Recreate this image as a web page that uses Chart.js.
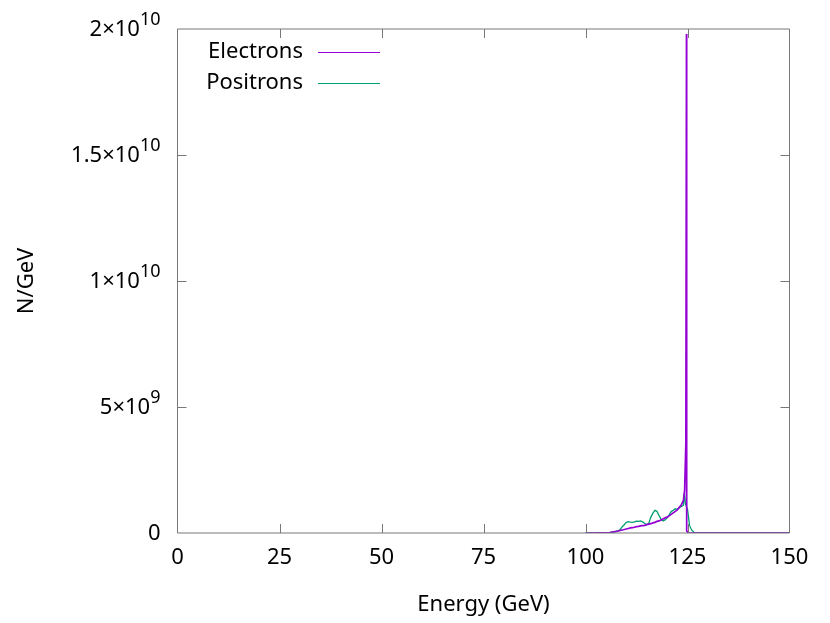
<!DOCTYPE html>
<html>
<head>
<meta charset="utf-8">
<script src="https://cdn.jsdelivr.net/npm/chart.js@4/dist/chart.umd.min.js"></script>
<style>
html,body{margin:0;padding:0;background:#fff;}
canvas{display:block;}
</style>
</head>
<body>
<canvas id="c" width="830" height="623"></canvas>
<script>
// ---- data ----
const energiesE = [100,102,104,105,106,107,108,109,110,110.5,
  111,111.5,112,112.5,113,113.5,114,114.5,115,115.5,
  116,116.5,117,117.5,118,118.5,119,119.5,120,120.5,
  121,121.5,122,122.5,123,123.5,124,124.3,124.6,124.75,
  124.8,125.25,126,130,150];
const electrons = [0,0,0.003e9,0.008e9,0.02e9,0.05e9,0.08e9,0.12e9,0.16e9,0.18e9,
  0.2e9,0.21e9,0.23e9,0.25e9,0.26e9,0.28e9,0.29e9,0.3e9,0.33e9,0.35e9,
  0.37e9,0.4e9,0.42e9,0.46e9,0.48e9,0.52e9,0.56e9,0.6e9,0.63e9,0.68e9,
  0.74e9,0.8e9,0.86e9,0.92e9,1.02e9,1.12e9,1.3e9,1.7e9,3.6e9,19.8e9,
  0.08e9,0,0,0,0];
const energiesP = [100,103,104,105,106,107,108,108.5,109,109.5,
  110,110.5,111,111.5,112,112.5,113,113.5,114,114.5,
  115,115.5,116,116.5,117,117.5,118,118.5,119,119.5,
  120,120.5,121,121.5,122,122.5,123,123.5,124,124.25,
  124.5,125,125.5,126,126.5,127,128,130,150];
const positrons = [0,0,0.005e9,0.01e9,0.02e9,0.04e9,0.08e9,0.14e9,0.25e9,0.33e9,
  0.42e9,0.45e9,0.43e9,0.42e9,0.44e9,0.47e9,0.46e9,0.48e9,0.44e9,0.39e9,
  0.33e9,0.38e9,0.62e9,0.78e9,0.9e9,0.86e9,0.7e9,0.55e9,0.48e9,0.52e9,
  0.6e9,0.72e9,0.85e9,0.9e9,0.96e9,0.94e9,1.0e9,1.05e9,1.1e9,1.6e9,
  1.15e9,0.95e9,0.3e9,0.12e9,0.04e9,0.01e9,0,0,0];
const seriesNames = ['Electrons','Positrons'];
const xTickLabels = ['0','25','50','75','100','125','150'];
// y tick labels: [mantissa part, exponent]
const yTickBase = ['0','5×10','1×10','1.5×10','2×10'];
const yTickExp  = ['','9','10','10','10'];
const xTitle = 'Energy (GeV)';
const yTitle = 'N/GeV';

const FONT = '"Noto Sans", "Open Sans", sans-serif';
const FS = 22;
const colE = '#9400d3', colP = '#009e73';

const framePlugin = {
  id:'frame',
  afterDatasetsDraw(chart){
    const {ctx, chartArea:a, scales:{x,y}} = chart;
    ctx.save();
    ctx.strokeStyle = '#777';
    ctx.lineWidth = 1;
    ctx.beginPath();
    ctx.rect(a.left, a.top, a.right-a.left, a.bottom-a.top);
    const L = 9;
    x.ticks.forEach(t=>{
      const px = Math.round(x.getPixelForValue(t.value))+0.5;
      if (t.value<=x.min || t.value>=x.max) return;
      ctx.moveTo(px,a.bottom); ctx.lineTo(px,a.bottom-L);
      ctx.moveTo(px,a.top); ctx.lineTo(px,a.top+L);
    });
    y.ticks.forEach(t=>{
      const py = Math.round(y.getPixelForValue(t.value))+0.5;
      if (t.value<=y.min || t.value>=y.max) return;
      ctx.moveTo(a.left,py); ctx.lineTo(a.left+L,py);
      ctx.moveTo(a.right,py); ctx.lineTo(a.right-L,py);
    });
    ctx.stroke();
    // y tick labels with superscript exponents
    ctx.fillStyle = '#000';
    ctx.textBaseline = 'middle';
    y.ticks.forEach((t,i)=>{
      const py = y.getPixelForValue(t.value);
      const right = a.left - 17;
      const exp = yTickExp[i];
      ctx.textAlign = 'right';
      let r = right;
      if (exp){
        ctx.font = Math.round(FS*0.8) + 'px ' + FONT;
        ctx.fillText(exp, r, py - 9);
        r -= ctx.measureText(exp).width;
      }
      ctx.font = FS + 'px ' + FONT;
      ctx.fillText(yTickBase[i], r, py + 1);
    });
    // legend
    ctx.font = FS + 'px ' + FONT;
    ctx.textAlign = 'right';
    const cols = [colE, colP];
    const ys = [52, 83];
    seriesNames.forEach((n,i)=>{
      ctx.fillStyle = '#000';
      ctx.fillText(n, 303, ys[i]);
      ctx.strokeStyle = cols[i];
      ctx.lineWidth = 1.2;
      ctx.beginPath();
      ctx.moveTo(318, ys[i]+0.5); ctx.lineTo(380, ys[i]+0.5);
      ctx.stroke();
    });
    ctx.restore();
  }
};

new Chart(document.getElementById('c'), {
  type:'scatter',
  data:{
    datasets:[
      {label:seriesNames[0], data:energiesE.map((v,i)=>({x:v,y:electrons[i]})), showLine:true,
       borderColor:colE, backgroundColor:colE, borderWidth:1.7, pointRadius:0, order:0},
      {label:seriesNames[1], data:energiesP.map((v,i)=>({x:v,y:positrons[i]})), showLine:true,
       borderColor:colP, backgroundColor:colP, borderWidth:1.3, pointRadius:0, order:1}
    ]
  },
  options:{
    responsive:false, animation:false,
    layout:{padding:{top:29, right:40.5, left:0, bottom:0}},
    plugins:{legend:{display:false}, tooltip:{enabled:false}},
    scales:{
      x:{type:'linear', min:0, max:150,
        ticks:{stepSize:25, padding:12, color:'#000', font:{family:FONT, size:FS},
          callback:(v,i)=>xTickLabels[i]},
        grid:{display:false, drawTicks:false},
        border:{display:false},
        title:{display:true, text:xTitle, color:'#000', font:{family:FONT, size:FS}, padding:{top:5,bottom:5}},
        afterFit(s){ s.height = 90; }
      },
      y:{min:0, max:2e10,
        ticks:{stepSize:5e9, display:false},
        grid:{display:false, drawTicks:false},
        border:{display:false},
        title:{display:true, text:yTitle, color:'#000', font:{family:FONT, size:FS}, padding:{top:14,bottom:14}},
        afterFit(s){ s.width = 177.5; }
      }
    }
  },
  plugins:[framePlugin]
});
</script>
</body>
</html>
